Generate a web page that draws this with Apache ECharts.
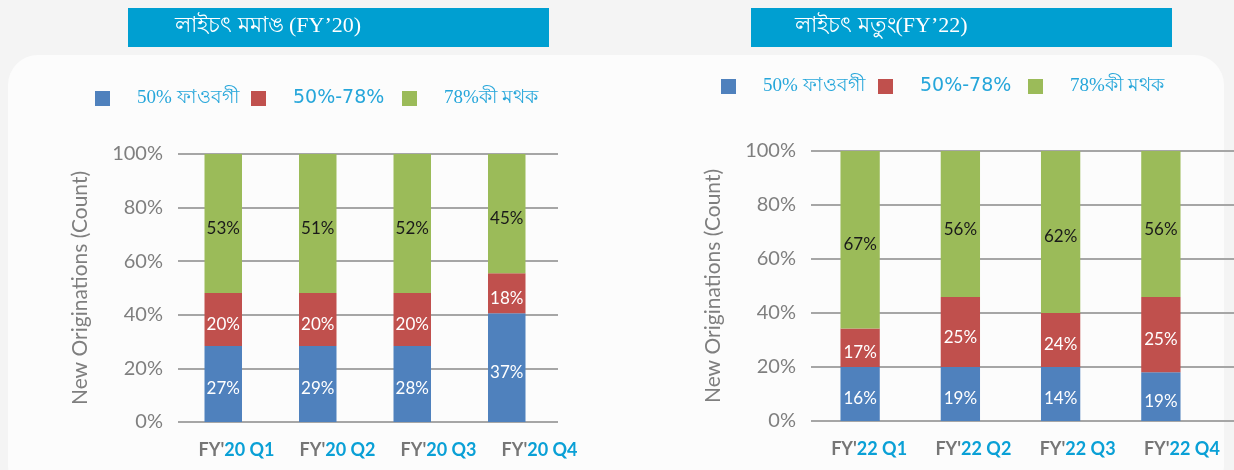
<!DOCTYPE html>
<html>
<head>
<meta charset="utf-8">
<title>লাইচৎ মমাঙ / মতুং</title>
<script src="https://cdn.jsdelivr.net/npm/echarts@6/dist/echarts.min.js"></script>
<style>
  html, body { margin: 0; padding: 0; background: #f4f4f4; }
  #chart { width: 1234px; height: 470px; }
</style>
</head>
<body>
<div id="chart"></div>
<script>
// series names (legend)
const seriesNames = ['50% ফাওবগী', '50%-78%', '78%কী মথক'];

// FY'20 panel
const categories20 = ["FY'20 Q1", "FY'20 Q2", "FY'20 Q3", "FY'20 Q4"];
const low20 = [28.4, 28.4, 28.4, 40.6];   // bar heights as drawn
const mid20 = [19.7, 19.7, 19.7, 14.9];
const high20 = [51.9, 51.9, 51.9, 44.5];
const lowLabels20 = [27, 29, 28, 37];     // printed labels
const midLabels20 = [20, 20, 20, 18];
const highLabels20 = [53, 51, 52, 45];

// FY'22 panel
const categories22 = ["FY'22 Q1", "FY'22 Q2", "FY'22 Q3", "FY'22 Q4"];
const low22 = [20, 20, 20, 18.1];
const mid22 = [14.3, 25.9, 20, 27.8];
const high22 = [65.7, 54.1, 60, 54.1];
const lowLabels22 = [16, 19, 14, 19];
const midLabels22 = [17, 25, 24, 25];
const highLabels22 = [67, 56, 62, 56];

const yTicks = [0, 100, 20]; // min, max, interval

const colors = ['#4f81bd', '#c0504d', '#9bbb59'];
const gray = '#7f7f7f';
const lineColor = '#a6a6a6';
const legendBlue = '#26a6da';
const headBlue = '#009fd1';

const chart = echarts.init(document.getElementById('chart'));

function valueAxis(gridIndex, shown) {
  const ax = {
    type: 'value',
    gridIndex: gridIndex,
    min: yTicks[0],
    max: yTicks[1],
    interval: yTicks[2],
    show: shown
  };
  if (shown) {
    Object.assign(ax, {
      axisLine: { show: false },
      axisTick: { show: false },
      axisLabel: {
        formatter: '{value}%',
        color: gray,
        fontFamily: 'Lato',
        fontSize: 20,
        margin: 15
      },
      splitLine: { lineStyle: { color: lineColor, width: 2 } },
      name: 'New Originations (Count)',
      nameLocation: 'middle',
      nameGap: 87,
      nameTextStyle: { color: gray, fontFamily: 'Lato', fontSize: 21 }
    });
  }
  return ax;
}

function labelAxis(gridIndex, cats) {
  return {
    type: 'category',
    gridIndex: gridIndex,
    data: cats,
    axisLine: { show: false },
    axisTick: { show: false },
    axisLabel: {
      interval: 0,
      margin: 19,
      formatter: v => '{g|FY\'}{b|' + v.slice(3) + '}',
      rich: {
        g: { color: '#767676', fontFamily: 'Lato', fontWeight: 'bold', fontSize: 18 },
        b: { color: '#0aa0d6', fontFamily: 'Lato', fontWeight: 'bold', fontSize: 18 }
      }
    }
  };
}

function barSeries(name, idx, axisIndex, stack, values, labels, width) {
  return {
    name: name,
    type: 'bar',
    stack: stack,
    xAxisIndex: axisIndex,
    yAxisIndex: axisIndex,
    barWidth: width,
    itemStyle: { color: colors[idx] },
    label: {
      show: true,
      position: 'inside',
      offset: [0, 5],
      formatter: p => labels[p.dataIndex] + '%',
      color: idx === 2 ? '#1a1a1a' : '#ffffff',
      fontFamily: 'Lato',
      fontSize: 17
    },
    data: values
  };
}

function legendItem(name, idx, left, top) {
  const sans = idx === 1;
  return {
    data: [name],
    left: left,
    top: top,
    padding: 0,
    icon: 'rect',
    itemWidth: 15,
    itemHeight: 15,
    selectedMode: false,
    textStyle: {
      color: legendBlue,
      fontFamily: sans ? 'DejaVu Sans' : 'Liberation Serif',
      fontSize: 19,
      padding: [0, 0, 0, 22]
    }
  };
}

const option = {
  animation: false,
  backgroundColor: '#f4f4f4',
  graphic: [
    {
      type: 'rect', z: -10,
      shape: { x: 8, y: 55, width: 1216, height: 440, r: 30 },
      style: { fill: '#fcfcfc' }
    },
    {
      type: 'rect',
      shape: { x: 128, y: 8, width: 421, height: 39 },
      style: { fill: headBlue }
    },
    {
      type: 'text', left: 175, top: 15,
      style: { text: 'লাইচৎ মমাঙ (FY’20)', fill: '#fff', font: '22px "Liberation Serif"' }
    },
    {
      type: 'rect',
      shape: { x: 751, y: 8, width: 421, height: 39 },
      style: { fill: headBlue }
    },
    {
      type: 'text', left: 795, top: 15,
      style: { text: 'লাইচৎ মতুং(FY’22)', fill: '#fff', font: '22px "Liberation Serif"' }
    }
  ],
  legend: [
    legendItem(seriesNames[0], 0, 95, 89),
    legendItem(seriesNames[1], 1, 251, 89),
    legendItem(seriesNames[2], 2, 402, 89),
    legendItem(seriesNames[0], 0, 721, 77),
    legendItem(seriesNames[1], 1, 878, 77),
    legendItem(seriesNames[2], 2, 1028, 77)
  ],
  grid: [
    { left: 178, width: 380, top: 154, height: 268 },   // FY20 gridlines
    { left: 176, width: 378, top: 154, height: 268 },   // FY20 bars
    { left: 186, width: 404, top: 154, height: 268 },   // FY20 labels
    { left: 811, width: 423, top: 151, height: 270 },   // FY22 gridlines
    { left: 810, width: 401, top: 151, height: 270 },   // FY22 bars
    { left: 817, width: 417, top: 151, height: 270 }    // FY22 labels
  ],
  xAxis: [
    { type: 'value', gridIndex: 0, min: 0, max: 1, show: false },
    { type: 'category', gridIndex: 1, data: categories20, show: false },
    labelAxis(2, categories20),
    { type: 'value', gridIndex: 3, min: 0, max: 1, show: false },
    { type: 'category', gridIndex: 4, data: categories22, show: false },
    labelAxis(5, categories22)
  ],
  yAxis: [
    valueAxis(0, true),
    valueAxis(1, false),
    valueAxis(2, false),
    valueAxis(3, true),
    valueAxis(4, false),
    valueAxis(5, false)
  ],
  series: [
    barSeries(seriesNames[0], 0, 1, 'fy20', low20, lowLabels20, 37.5),
    barSeries(seriesNames[1], 1, 1, 'fy20', mid20, midLabels20, 37.5),
    barSeries(seriesNames[2], 2, 1, 'fy20', high20, highLabels20, 37.5),
    barSeries(seriesNames[0], 0, 4, 'fy22', low22, lowLabels22, 39.3),
    barSeries(seriesNames[1], 1, 4, 'fy22', mid22, midLabels22, 39.3),
    barSeries(seriesNames[2], 2, 4, 'fy22', high22, highLabels22, 39.3)
  ]
};

chart.setOption(option);
</script>
</body>
</html>
